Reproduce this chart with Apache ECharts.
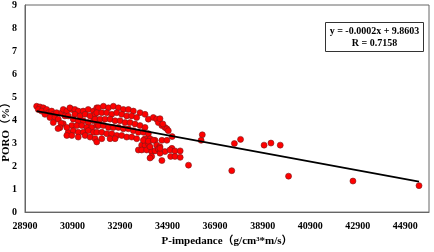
<!DOCTYPE html>
<html><head><meta charset="utf-8">
<script src="https://cdn.jsdelivr.net/npm/echarts@6/dist/echarts.min.js"></script>
<style>html,body{margin:0;padding:0;background:#fff}#c{width:434px;height:252px}</style>
</head><body><div id="c"></div>
<script>
// P-impedance (g/cm3*m/s) values of the points
const impedance = [
29390,29530,29670,29460,29600,29810,29880,29740,30020,30090,29950,30160,30300,30230,30450,30510,30660,30580,30720,30870,
30790,31000,31140,31350,31560,31780,31920,31000,31220,31430,31640,31850,30930,31140,31350,31560,31780,31990,30870,31080,
31290,31500,31710,31920,30720,30930,31140,31350,31560,31780,30660,30870,31140,31430,31640,31850,31920,30510,30660,
31990,32200,32410,32620,32830,33040,33250,33460,33740,33950,34090,34300,34440,34510,34660,34790,34870,34930,
31920,32130,32340,32550,32760,32970,33180,33390,33600,
31850,32060,32270,32480,32690,32900,33110,33320,33530,33740,33950,
31990,32200,32410,32620,32830,33040,33250,33460,33670,33880,34090,
31920,32130,32340,32550,32760,32970,33180,33390,33600,33950,34160,34370,34660,34870,
32130,32480,32690,33810,33950,34090,34160,34440,34580,33670,33810,34020,34230,34510,34790,35080,
33880,34090,34300,34160,34370,34510,34580,34660,34230,34160,35000,35210,35430,35030,35210,35430,35780,
34580,34700,35090,34580,30420,30370,30090,30290,
36360,36310,37600,37710,37970,38960,39250,39640,39990,42700,45480
];
// PORO (%) values of the points
const poro = [
4.60,4.57,4.53,4.46,4.39,4.46,4.32,4.25,4.39,4.25,4.11,4.11,4.04,4.32,4.32,4.46,4.39,4.18,4.18,4.46,
4.53,4.46,4.39,4.39,4.46,4.39,4.53,4.25,4.18,4.25,4.18,4.25,4.04,3.97,3.97,3.89,3.97,3.89,3.76,3.76,
3.76,3.68,3.68,3.76,3.47,3.54,3.47,3.47,3.54,3.47,3.33,3.33,3.26,3.33,3.26,3.19,3.05,3.84,3.68,
4.53,4.60,4.53,4.60,4.53,4.46,4.46,4.39,4.32,4.25,4.04,4.11,4.04,3.89,3.76,3.68,3.62,3.54,
4.32,4.32,4.32,4.25,4.32,4.25,4.18,4.18,4.11,
4.04,4.04,4.04,4.04,3.97,3.97,3.89,3.89,3.83,3.76,3.68,
3.76,3.76,3.68,3.68,3.68,3.62,3.62,3.54,3.47,3.47,3.41,
3.47,3.47,3.41,3.41,3.33,3.33,3.26,3.26,3.19,3.19,3.19,3.12,3.12,3.12,
3.19,3.19,3.19,2.91,2.91,2.98,2.77,2.91,2.84,2.70,2.70,2.70,2.63,2.70,2.63,2.77,
3.12,3.08,3.12,2.84,2.66,2.74,2.56,2.24,2.42,2.35,2.70,2.66,2.66,2.42,2.42,2.38,2.04,
4.06,3.83,3.28,2.77,3.86,3.67,3.89,3.63,
3.36,3.12,1.80,2.98,3.16,2.91,3.00,2.91,1.56,1.35,1.15
];
const xTicks = {min: 28900, max: 45900, step: 2000};
const yTicks = {min: 0, max: 9, step: 1};
const fit = {slope: -0.00019, intercept: 9.97};
const equationText = ['y = -0.0002x + 9.8603', 'R = 0.7158'];
const xTitle = 'P-impedance（g/cm³*m/s）';
const yTitle = 'PORO（%）';

const pts = impedance.map((x, i) => [x, poro[i]]);
const xMin = Math.min(...impedance), xMax = Math.max(...impedance);
const trend = [[xMin, fit.intercept + fit.slope * xMin], [xMax, fit.intercept + fit.slope * xMax]];

const serif = '"Liberation Serif","Times New Roman","Noto Sans CJK SC",serif';
const chart = echarts.init(document.getElementById('c'));
chart.setOption({
  animation: false,
  grid: {left: 25, top: 5, right: 5, bottom: 33, show: true, borderColor: '#666', borderWidth: 1, backgroundColor: '#fff'},
  xAxis: {
    type: 'value', min: xTicks.min, max: xTicks.max, interval: xTicks.step,
    name: xTitle, nameLocation: 'middle', nameGap: 23,
    nameTextStyle: {fontFamily: serif, fontWeight: 'bold', fontSize: 11, color: '#000'},
    axisLine: {show: true, lineStyle: {color: '#666'}}, axisTick: {show: false}, splitLine: {show: false},
    axisLabel: {fontFamily: serif, fontWeight: 'bold', fontSize: 10, color: '#000', margin: 9, showMaxLabel: false,
      formatter: v => String(v)}
  },
  yAxis: {
    type: 'value', min: yTicks.min, max: yTicks.max, interval: yTicks.step,
    axisLine: {show: true, lineStyle: {color: '#666'}}, axisTick: {show: false}, splitLine: {show: false},
    axisLabel: {fontFamily: serif, fontWeight: 'bold', fontSize: 10, color: '#000', margin: 8}
  },
  graphic: [
    {type: 'text', left: 1, top: 97, rotation: Math.PI / 2,
     style: {text: yTitle, font: 'bold 11px ' + serif, fill: '#000'}, z: 10},
    {type: 'group', left: 325, top: 22, z: 10, children: [
      {type: 'rect', shape: {x: 0, y: 0, width: 98, height: 29}, style: {fill: '#fff', stroke: '#333', lineWidth: 1}},
      {type: 'text', x: 49, y: 8.5, style: {text: equationText[0], font: 'bold 10px ' + serif, fill: '#000', align: 'center', verticalAlign: 'middle'}},
      {type: 'text', x: 49, y: 21, style: {text: equationText[1], font: 'bold 10px ' + serif, fill: '#000', align: 'center', verticalAlign: 'middle'}}
    ]}
  ],
  series: [
    {type: 'scatter', data: pts, symbolSize: 6,
     itemStyle: {color: '#ff0000', borderColor: '#7a1a1a', borderWidth: 0.6, opacity: 1}, z: 2},
    {type: 'line', data: trend, symbol: 'none', lineStyle: {color: '#000', width: 1.8}, z: 3}
  ]
});
</script></body></html>
